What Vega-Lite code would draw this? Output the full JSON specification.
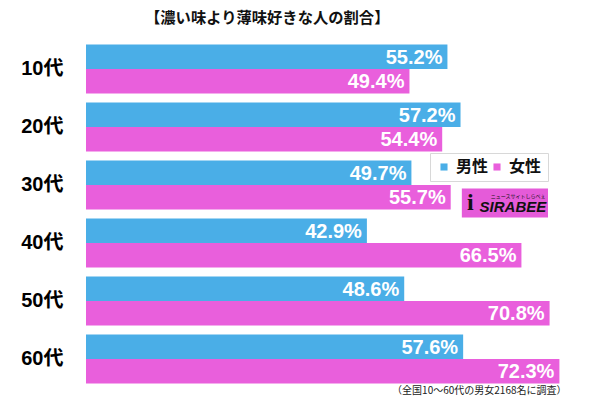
{
  "$schema": "https://vega.github.io/schema/vega-lite/v6.json",
  "width": 514,
  "height": 348,
  "autosize": {"type": "none"},
  "padding": {"left": 86, "top": 40, "right": 0, "bottom": 12},
  "background": "white",
  "config": {"view": {"stroke": null}, "font": "Liberation Sans, Noto Sans CJK JP"},
  "title": {"text": "【濃い味より薄味好きな人の割合】", "anchor": "start", "frame": "group", "dx": 59, "fontSize": 15.3, "fontWeight": "bold", "font": "Noto Sans CJK JP", "color": "#111", "offset": 14},
  "layer": [
    {
      "data": {"values": [
        {"age": "10代", "sex": "男性", "value": 0.552},
        {"age": "10代", "sex": "女性", "value": 0.494},
        {"age": "20代", "sex": "男性", "value": 0.572},
        {"age": "20代", "sex": "女性", "value": 0.544},
        {"age": "30代", "sex": "男性", "value": 0.497},
        {"age": "30代", "sex": "女性", "value": 0.557},
        {"age": "40代", "sex": "男性", "value": 0.429},
        {"age": "40代", "sex": "女性", "value": 0.665},
        {"age": "50代", "sex": "男性", "value": 0.486},
        {"age": "50代", "sex": "女性", "value": 0.708},
        {"age": "60代", "sex": "男性", "value": 0.576},
        {"age": "60代", "sex": "女性", "value": 0.723}
      ]},
      "encoding": {
        "y": {"field": "age", "type": "nominal", "sort": ["10代", "20代", "30代", "40代", "50代", "60代"],
          "scale": {"paddingInner": 0.155, "paddingOuter": 0.0775},
          "axis": {"title": null, "domain": false, "ticks": false, "labelFontSize": 20, "labelFontWeight": "bold", "labelColor": "#000", "labelPadding": 23, "labelFont": "Liberation Sans, Noto Sans CJK JP"}},
        "yOffset": {"field": "sex", "type": "nominal", "sort": ["男性", "女性"], "scale": {"paddingInner": 0, "paddingOuter": 0}},
        "x": {"field": "value", "type": "quantitative", "scale": {"domain": [0, 0.785], "nice": false, "zero": true},
          "axis": {"title": "（全国10～60代の男女2168名に調査）", "labels": false, "ticks": false, "domain": false, "grid": false,
            "titleFontSize": 10, "titleFontWeight": "normal", "titleColor": "#222", "titleFont": "Noto Sans CJK JP",
            "titleAnchor": "end", "titleAlign": "right", "titleX": 480, "titleBaseline": "top", "titlePadding": -3}}
      },
      "layer": [
        {"mark": {"type": "bar"},
          "encoding": {"color": {"field": "sex", "type": "nominal", "sort": ["男性", "女性"],
            "scale": {"domain": ["男性", "女性"], "range": ["#4aaee7", "#e95fdc"]},
            "legend": {"title": null, "orient": "none", "legendX": 344, "legendY": 113, "direction": "horizontal",
              "fillColor": "white", "strokeColor": "#d8d8d8", "padding": 6, "symbolType": "square", "symbolSize": 50,
              "symbolStrokeWidth": 0, "labelFontSize": 16, "labelFontWeight": "bold", "labelColor": "#111",
              "labelFont": "Noto Sans CJK JP", "columnPadding": 0, "labelOffset": 4}}}},
        {"mark": {"type": "text", "align": "right", "baseline": "middle", "dx": -5, "dy": 1, "color": "white", "fontSize": 20, "fontWeight": "bold"},
          "encoding": {"text": {"field": "value", "format": ".1%"}}}
      ]
    },
    {
      "data": {"values": [{}]},
      "mark": {"type": "bar", "height": 29, "yOffset": 18, "color": "#e55bd9"},
      "encoding": {
        "x": {"datum": 0.574, "type": "quantitative"},
        "x2": {"datum": 0.7056},
        "y": {"datum": "30代", "type": "nominal"}
      }
    },
    {
      "data": {"values": [{}]},
      "mark": {"type": "text", "text": "SIRABEE", "fontSize": 15, "fontWeight": "bold", "fontStyle": "italic", "color": "#111", "dy": 22, "font": "Liberation Sans"},
      "encoding": {
        "x": {"datum": 0.652, "type": "quantitative"},
        "y": {"datum": "30代", "type": "nominal"}
      }
    },
    {
      "data": {"values": [{}]},
      "mark": {"type": "text", "text": "ニュースサイトしらべぇ", "fontSize": 5, "color": "#111", "dy": 11, "font": "Noto Sans CJK JP"},
      "encoding": {
        "x": {"datum": 0.66, "type": "quantitative"},
        "y": {"datum": "30代", "type": "nominal"}
      }
    },
    {
      "data": {"values": [{}]},
      "mark": {"type": "text", "text": "i", "fontSize": 24, "fontWeight": "bold", "color": "#111", "dy": 18, "font": "Liberation Serif"},
      "encoding": {
        "x": {"datum": 0.587, "type": "quantitative"},
        "y": {"datum": "30代", "type": "nominal"}
      }
    }
  ]
}
